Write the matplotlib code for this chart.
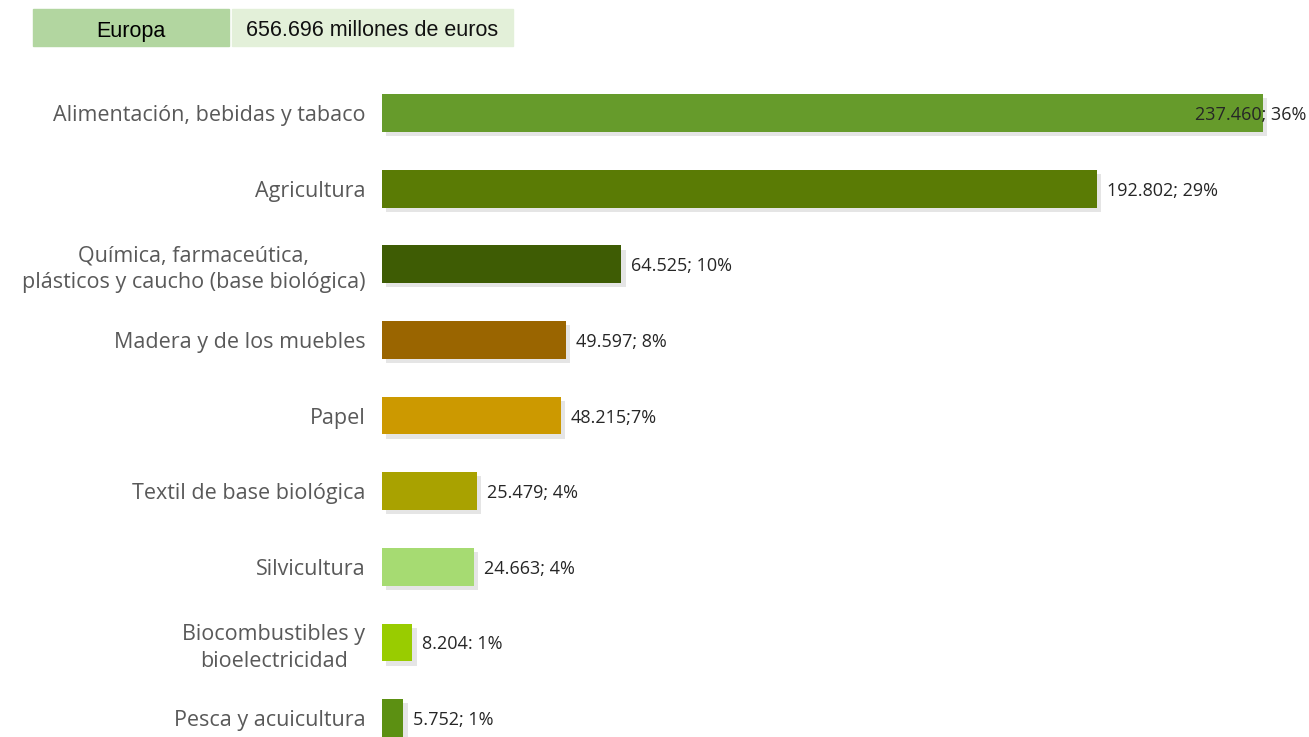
import matplotlib.pyplot as plt
import matplotlib.patheffects as pe
from matplotlib.patches import Rectangle

categories = [
    'Alimentación, bebidas y tabaco',
    'Agricultura',
    'Química, farmaceútica,\nplásticos y caucho (base biológica)',
    'Madera y de los muebles',
    'Papel',
    'Textil de base biológica',
    'Silvicultura',
    'Biocombustibles y\nbioelectricidad',
    'Pesca y acuicultura',
]
values = [237460, 192802, 64525, 49597, 48215, 25479, 24663, 8204, 5752]
value_labels = ['237.460; 36%', '192.802; 29%', '64.525; 10%', '49.597; 8%',
                '48.215;7%', '25.479; 4%', '24.663; 4%', '8.204: 1%', '5.752; 1%']
colors = ['#669B2B', '#5A7B05', '#3E5C04', '#9A6500', '#CC9900',
          '#A9A200', '#A6DB72', '#99CC00', '#5C9012']
region = 'Europa'
total = '656.696 millones de euros'

W, H = 1309, 737
fig = plt.figure(figsize=(W / 100, H / 100), dpi=100)

# axes start where the bars start (x=382px); bar rows every ~75.6px
ax = fig.add_axes([382 / W, 0, (W - 382) / W, (H - 75.2) / H])
ypos = list(range(len(values)))
shadow = [pe.SimplePatchShadow(offset=(3, -3), shadow_rgbFace='#999999', alpha=0.25),
          pe.Normal()]
bars = ax.barh(ypos, values, height=0.5, color=colors)
for b in bars:
    b.set_path_effects(shadow)

ax.set_xlim(0, (W - 382) / (881 / 237460))
ax.set_ylim(8.25, -0.5)
ax.set_yticks(ypos)
ax.set_yticklabels(categories, fontsize=15.5, color='#595959', family='Open Sans')
for t in ax.get_yticklabels():
    t.set_multialignment('center')
    t.set_linespacing(1.35)
ax.tick_params(axis='y', length=0, pad=12)
ax.set_xticks([])
for s in ax.spines.values():
    s.set_visible(False)

for i, (v, lab) in enumerate(zip(values, value_labels)):
    off = -68 if i == 0 else 10
    ax.annotate(lab, (v, i), xytext=(off, -2), textcoords='offset pixels',
                ha='left', va='center', fontsize=13, color='#262626',
                family='Open Sans')

# header boxes
fig.patches.append(Rectangle((33 / W, 1 - 46 / H), 196 / W, 37 / H,
                             transform=fig.transFigure, color='#B2D6A0'))
fig.patches.append(Rectangle((232 / W, 1 - 46 / H), 281 / W, 37 / H,
                             transform=fig.transFigure, color='#E3F0D9'))
fig.text(131 / W, 1 - 31 / H, region, ha='center', va='center',
         fontsize=15.5, family='Liberation Sans', color='black')
fig.text(372 / W, 1 - 31 / H, total, ha='center', va='center',
         fontsize=15.5, family='Liberation Sans', color='#111111')

fig.savefig('out.png', dpi=100)
